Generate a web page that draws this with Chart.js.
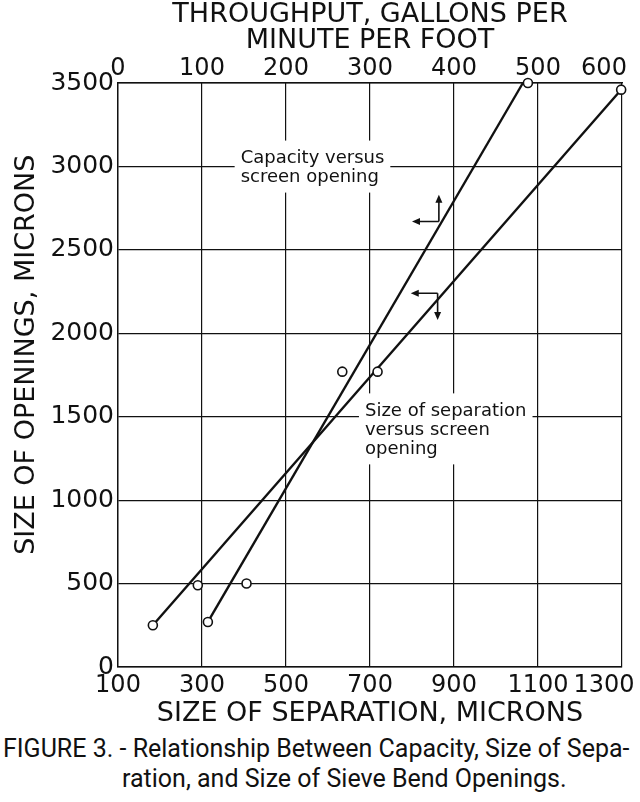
<!DOCTYPE html>
<html>
<head>
<meta charset="utf-8">
<script src="https://cdn.jsdelivr.net/npm/chart.js@4.4.0/dist/chart.umd.min.js"></script>
<style>
  html, body { margin: 0; padding: 0; background: #fff; }
  #wrap { position: relative; width: 640px; height: 802px; }
  #chartBox { position: absolute; left: 0; top: 0; width: 640px; height: 732px; }
  #caption { position: absolute; left: 0; top: 734px; width: 640px; font-family: Roboto, sans-serif; font-size: 25px; line-height: 30px; color: #111; white-space: nowrap; }
</style>
</head>
<body>
<div id="wrap">
  <div id="chartBox"><canvas id="myChart"></canvas></div>
  <div id="caption">
    <div style="padding-left:3px">FIGURE 3. - Relationship Between Capacity, Size of Sepa-</div>
    <div style="padding-left:122px">ration, and Size of Sieve Bend Openings.</div>
  </div>
</div>
<script>
// capacity (top axis) vs screen opening
var capThroughput = [107, 153, 267, 488];
var capOpening = [270, 500, 1770, 3500];
// size of separation (bottom axis) vs screen opening
var sepSize = [183, 290, 718, 1298];
var sepOpening = [250, 490, 1770, 3460];

// the two drawn lines (ends)
var capLineThroughput = [107, 482];
var capLineOpening = [270, 3500];
var sepLineSize = [183, 1298];
var sepLineOpening = [250, 3460];

var sizeTicks = [100, 300, 500, 700, 900, 1100, 1300];
var throughputTicks = [0, 100, 200, 300, 400, 500, 600];
var openingTicks = [0, 500, 1000, 1500, 2000, 2500, 3000, 3500];

var notes = [
    { axis: 'xTop', x: 146, y: 3050, lines: ['Capacity versus', 'screen opening'] },
    { axis: 'x', x: 688, y: 1535, lines: ['Size of separation', 'versus screen', 'opening'] }
];
var arrows = [
    { axis: 'xTop', x: 382, y: 2670, toX: 350, toY: 2830 },
    { axis: 'x', x: 861, y: 2240, toX: 797, toY: 2080 }
];

var INK = '#111';
var FONT = '"DejaVu Sans", sans-serif';

function toPoints(xs, ys) {
    var pts = [];
    for (var i = 0; i < xs.length; i++) {
        pts.push({ x: xs[i], y: ys[i] });
    }
    return pts;
}

function tickSetter(values) {
    return function (axis) {
        axis.ticks = values.map(function (v) { return { value: v }; });
    };
}

// last label is pushed left with trailing spaces like on the original
function edgeLabel(values) {
    return function (value) {
        var s = String(value);
        if (value === values[values.length - 1]) s = s + '\u2002\u2002\u2002';
        return s;
    };
}

function drawHead(ctx, x, y, dx, dy) {
    var len = 8, half = 3.5;
    ctx.beginPath();
    ctx.moveTo(x, y);
    ctx.lineTo(x - dx * len - dy * half, y - dy * len + dx * half);
    ctx.lineTo(x - dx * len + dy * half, y - dy * len - dx * half);
    ctx.closePath();
    ctx.fill();
}

var notesPlugin = {
    id: 'notes',
    beforeDatasetsDraw: function (chart) {
        var ctx = chart.ctx;
        var yScale = chart.scales.y;
        ctx.save();
        ctx.font = '18px ' + FONT;
        ctx.textBaseline = 'middle';
        notes.forEach(function (n) {
            var px = chart.scales[n.axis].getPixelForValue(n.x);
            var py = yScale.getPixelForValue(n.y);
            var lh = 19;
            var w = 0;
            n.lines.forEach(function (t) { w = Math.max(w, ctx.measureText(t).width); });
            ctx.fillStyle = '#fff';
            ctx.fillRect(px - 6, py - lh / 2 - 8, w + 12, lh * n.lines.length + 14);
            ctx.fillStyle = INK;
            n.lines.forEach(function (t, i) {
                ctx.fillText(t, px, py + i * lh);
            });
        });
        ctx.restore();
    },
    afterDatasetsDraw: function (chart) {
        var ctx = chart.ctx;
        var yScale = chart.scales.y;
        ctx.save();
        ctx.strokeStyle = INK;
        ctx.fillStyle = INK;
        ctx.lineWidth = 1.6;
        arrows.forEach(function (a) {
            var xs = chart.scales[a.axis];
            var x0 = xs.getPixelForValue(a.x), y0 = yScale.getPixelForValue(a.y);
            var x1 = xs.getPixelForValue(a.toX), y1 = yScale.getPixelForValue(a.toY);
            ctx.beginPath();
            ctx.moveTo(x0, y0); ctx.lineTo(x1 + 4, y0);
            ctx.moveTo(x0, y0); ctx.lineTo(x0, y1 + (y1 < y0 ? 4 : -4));
            ctx.stroke();
            drawHead(ctx, x1, y0, -1, 0);
            drawHead(ctx, x0, y1, 0, y1 < y0 ? -1 : 1);
        });
        ctx.restore();
    }
};

var pointStyle = {
    showLine: false,
    pointRadius: 4.5,
    pointHoverRadius: 4.5,
    pointBorderWidth: 1.6,
    pointBorderColor: INK,
    pointBackgroundColor: '#fff',
    clip: false,
    order: 1
};

var lineStyle = {
    showLine: true,
    borderColor: INK,
    borderWidth: 2.4,
    pointRadius: 0,
    clip: false,
    order: 2
};

function createChart() {
    var ctx = document.getElementById('myChart').getContext('2d');
    var myChart = new Chart(ctx, {
        type: 'scatter',
        data: {
            datasets: [
                Object.assign({ label: 'Capacity', xAxisID: 'xTop', yAxisID: 'y', data: toPoints(capThroughput, capOpening) }, pointStyle),
                Object.assign({ label: 'Size of separation', xAxisID: 'x', yAxisID: 'y', data: toPoints(sepSize, sepOpening) }, pointStyle),
                Object.assign({ label: 'Capacity line', xAxisID: 'xTop', yAxisID: 'y', data: toPoints(capLineThroughput, capLineOpening) }, lineStyle),
                Object.assign({ label: 'Separation line', xAxisID: 'x', yAxisID: 'y', data: toPoints(sepLineSize, sepLineOpening) }, lineStyle)
            ]
        },
        options: {
            responsive: true,
            maintainAspectRatio: false,
            animation: false,
            layout: { padding: { left: 0, right: 18, top: 0, bottom: 0 } },
            plugins: {
                legend: { display: false },
                tooltip: { enabled: false }
            },
            scales: {
                x: {
                    type: 'linear',
                    position: 'bottom',
                    min: 100,
                    max: 1300,
                    afterBuildTicks: tickSetter(sizeTicks),
                    afterFit: function (axis) { axis.height = 65; axis.paddingLeft = 0; axis.paddingRight = 0; },
                    grid: { color: INK, lineWidth: 1.2, drawTicks: false },
                    border: { color: INK, width: 1.4 },
                    ticks: { color: INK, padding: 7, maxRotation: 0, autoSkip: false, font: { family: FONT, size: 24, lineHeight: 1 }, callback: edgeLabel(sizeTicks) },
                    title: { display: true, text: 'SIZE OF SEPARATION, MICRONS', color: INK, padding: { top: 0, bottom: 3 }, font: { family: FONT, size: 27, lineHeight: 1.1 } }
                },
                xTop: {
                    type: 'linear',
                    position: 'top',
                    min: 0,
                    max: 600,
                    afterBuildTicks: tickSetter(throughputTicks),
                    afterFit: function (axis) { axis.height = 83; axis.paddingLeft = 0; axis.paddingRight = 0; },
                    grid: { display: false, drawTicks: false },
                    border: { color: INK, width: 1.4 },
                    ticks: { color: INK, padding: 2, maxRotation: 0, autoSkip: false, font: { family: FONT, size: 24, lineHeight: 1 }, callback: edgeLabel(throughputTicks) },
                    title: { display: true, text: ['THROUGHPUT, GALLONS PER', 'MINUTE PER FOOT'], color: INK, padding: { top: 2, bottom: 0 }, font: { family: FONT, size: 27, lineHeight: 0.96 } }
                },
                y: {
                    type: 'linear',
                    position: 'left',
                    min: 0,
                    max: 3500,
                    afterBuildTicks: tickSetter(openingTicks),
                    afterFit: function (axis) { axis.width = 118; },
                    grid: { color: INK, lineWidth: 1.2, drawTicks: false },
                    border: { color: INK, width: 1.4 },
                    ticks: { color: INK, padding: 4, autoSkip: false, font: { family: FONT, size: 25 }, callback: function (value) { return String(value); } },
                    // leading spaces lift the title a little, as in the original
                    title: { display: true, text: '\u2002\u2002\u2002SIZE OF OPENINGS, MICRONS', color: INK, padding: { top: 11, bottom: 0 }, font: { family: FONT, size: 27, lineHeight: 1.2 } }
                }
            }
        },
        plugins: [notesPlugin]
    });
}

createChart();
</script>
</body>
</html>
